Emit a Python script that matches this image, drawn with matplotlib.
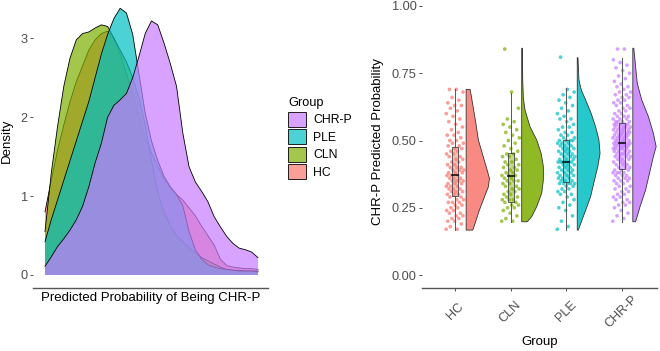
import numpy as np
import matplotlib.pyplot as plt
from matplotlib.colors import to_rgba
from matplotlib.patches import Patch, Rectangle

plt.rcParams['font.family'] = ['Liberation Sans', 'DejaVu Sans']

groups = ["HC", "CLN", "PLE", "CHR-P"]
colors = {"HC": "#F8766D", "CLN": "#7CAE00", "PLE": "#00BFC4", "CHR-P": "#C77CFF"}

# left panel: density curves
dens_x = [0.17, 0.19, 0.21, 0.23, 0.25, 0.27, 0.29, 0.31, 0.33, 0.35, 0.37, 0.39,
          0.41, 0.43, 0.45, 0.47, 0.49, 0.51, 0.53, 0.55, 0.57, 0.59, 0.61, 0.63,
          0.65, 0.67, 0.69, 0.71, 0.73, 0.75, 0.77, 0.79, 0.81, 0.83, 0.85]
dens_hc = [0.80, 1.20, 1.58, 1.90, 2.20, 2.45, 2.65, 2.85, 2.98, 3.06, 3.09, 3.00,
           2.80, 2.55, 2.30, 2.00, 1.75, 1.55, 1.38, 1.22, 1.10, 1.02, 0.95, 0.85,
           0.75, 0.62, 0.50, 0.38, 0.20, 0.12, 0.10, 0.09, 0.08, 0.08, 0.07]
dens_cln = [0.55, 1.29, 1.88, 2.39, 2.75, 2.98, 3.06, 3.08, 3.13, 3.17, 3.15, 3.00,
            2.85, 2.70, 2.50, 2.25, 1.90, 1.45, 1.05, 0.80, 0.62, 0.50, 0.42, 0.34,
            0.28, 0.22, 0.18, 0.14, 0.10, 0.07, 0.06, 0.06, 0.05, 0.05, 0.05]
dens_ple = [0.42, 0.70, 0.95, 1.20, 1.45, 1.70, 1.95, 2.20, 2.50, 2.80, 3.05, 3.25,
            3.38, 3.32, 3.05, 2.55, 2.05, 1.70, 1.45, 1.25, 1.12, 1.02, 0.88, 0.55,
            0.32, 0.20, 0.13, 0.10, 0.08, 0.07, 0.06, 0.05, 0.05, 0.05, 0.04]
dens_chrp = [0.11, 0.23, 0.36, 0.46, 0.57, 0.70, 0.87, 1.12, 1.42, 1.67, 2.00, 2.15,
             2.22, 2.30, 2.50, 2.77, 3.06, 3.22, 3.17, 2.94, 2.68, 2.39, 1.80, 1.37,
             1.18, 1.06, 0.93, 0.74, 0.61, 0.49, 0.40, 0.34, 0.32, 0.29, 0.22]
densities = {"HC": dens_hc, "CLN": dens_cln, "PLE": dens_ple, "CHR-P": dens_chrp}

# right panel: individual predicted probabilities
vals_hc = [0.17, 0.17, 0.18, 0.19, 0.20, 0.20, 0.21, 0.21, 0.22, 0.22, 0.23, 0.23,
           0.24, 0.24, 0.25, 0.25, 0.26, 0.26, 0.27, 0.27, 0.27, 0.28, 0.28, 0.29,
           0.29, 0.30, 0.30, 0.30, 0.31, 0.31, 0.31, 0.32, 0.32, 0.32, 0.33, 0.33,
           0.33, 0.34, 0.34, 0.34, 0.35, 0.35, 0.35, 0.35, 0.36, 0.36, 0.36, 0.37,
           0.37, 0.37, 0.38, 0.38, 0.38, 0.39, 0.39, 0.39, 0.40, 0.40, 0.40, 0.41,
           0.41, 0.42, 0.42, 0.43, 0.43, 0.44, 0.44, 0.45, 0.45, 0.46, 0.46, 0.47,
           0.47, 0.48, 0.48, 0.49, 0.49, 0.50, 0.50, 0.51, 0.52, 0.52, 0.53, 0.54,
           0.55, 0.56, 0.57, 0.58, 0.59, 0.60, 0.61, 0.62, 0.63, 0.63, 0.64, 0.65,
           0.66, 0.68, 0.69, 0.69]
vals_cln = [0.20, 0.20, 0.21, 0.22, 0.23, 0.24, 0.25, 0.25, 0.26, 0.26, 0.27, 0.27,
            0.28, 0.28, 0.28, 0.29, 0.29, 0.30, 0.30, 0.31, 0.31, 0.32, 0.32, 0.33,
            0.33, 0.34, 0.34, 0.35, 0.35, 0.35, 0.36, 0.36, 0.37, 0.37, 0.37, 0.38,
            0.38, 0.39, 0.39, 0.40, 0.40, 0.41, 0.41, 0.42, 0.42, 0.43, 0.44, 0.44,
            0.45, 0.45, 0.46, 0.47, 0.48, 0.49, 0.50, 0.51, 0.52, 0.53, 0.54, 0.55,
            0.56, 0.57, 0.58, 0.62, 0.68, 0.84]
vals_ple = [0.17, 0.18, 0.20, 0.22, 0.24, 0.25, 0.26, 0.27, 0.28, 0.29, 0.30, 0.30,
            0.31, 0.31, 0.32, 0.32, 0.33, 0.33, 0.34, 0.34, 0.34, 0.34, 0.34, 0.35,
            0.35, 0.35, 0.36, 0.36, 0.36, 0.37, 0.37, 0.37, 0.38, 0.38, 0.38, 0.39,
            0.39, 0.39, 0.40, 0.40, 0.40, 0.41, 0.41, 0.41, 0.42, 0.42, 0.42, 0.42,
            0.42, 0.42, 0.43, 0.43, 0.43, 0.44, 0.44, 0.44, 0.45, 0.45, 0.45, 0.46,
            0.46, 0.46, 0.47, 0.47, 0.47, 0.48, 0.48, 0.48, 0.49, 0.49, 0.49, 0.50,
            0.50, 0.50, 0.50, 0.51, 0.51, 0.52, 0.52, 0.53, 0.53, 0.54, 0.55, 0.55,
            0.56, 0.57, 0.58, 0.58, 0.59, 0.60, 0.61, 0.62, 0.63, 0.64, 0.65, 0.66,
            0.67, 0.68, 0.69, 0.81]
vals_chrp = [0.20, 0.21, 0.22, 0.23, 0.24, 0.25, 0.26, 0.26, 0.27, 0.27, 0.28, 0.28,
             0.29, 0.29, 0.30, 0.30, 0.31, 0.31, 0.32, 0.32, 0.33, 0.33, 0.34, 0.34,
             0.35, 0.35, 0.35, 0.36, 0.36, 0.36, 0.37, 0.37, 0.37, 0.38, 0.38, 0.38,
             0.38, 0.39, 0.39, 0.39, 0.40, 0.40, 0.40, 0.41, 0.41, 0.41, 0.42, 0.42,
             0.42, 0.43, 0.43, 0.43, 0.44, 0.44, 0.44, 0.44, 0.45, 0.45, 0.45, 0.45,
             0.46, 0.46, 0.46, 0.46, 0.47, 0.47, 0.47, 0.47, 0.47, 0.48, 0.48, 0.48,
             0.48, 0.48, 0.48, 0.49, 0.49, 0.49, 0.49, 0.49, 0.49, 0.49, 0.50, 0.50,
             0.50, 0.50, 0.50, 0.51, 0.51, 0.51, 0.51, 0.51, 0.52, 0.52, 0.52, 0.52,
             0.52, 0.53, 0.53, 0.53, 0.53, 0.53, 0.54, 0.54, 0.54, 0.54, 0.54, 0.55,
             0.55, 0.55, 0.55, 0.55, 0.56, 0.56, 0.56, 0.56, 0.56, 0.57, 0.57, 0.57,
             0.57, 0.58, 0.58, 0.58, 0.59, 0.59, 0.59, 0.60, 0.60, 0.61, 0.61, 0.62,
             0.62, 0.63, 0.63, 0.64, 0.64, 0.65, 0.65, 0.66, 0.66, 0.67, 0.67, 0.68,
             0.68, 0.69, 0.70, 0.70, 0.71, 0.72, 0.73, 0.74, 0.75, 0.76, 0.77, 0.78,
             0.79, 0.80, 0.84, 0.84]
values = {"HC": vals_hc, "CLN": vals_cln, "PLE": vals_ple, "CHR-P": vals_chrp}

# box plot summaries (lower whisker, q1, median, q3, upper whisker)
box_hc = [0.168, 0.294, 0.372, 0.477, 0.690]
box_cln = [0.198, 0.273, 0.368, 0.452, 0.676]
box_ple = [0.167, 0.345, 0.420, 0.502, 0.694]
box_chrp = [0.198, 0.393, 0.489, 0.566, 0.806]
boxes = {"HC": box_hc, "CLN": box_cln, "PLE": box_ple, "CHR-P": box_chrp}

# half violins: y levels and half widths (category units)
vy_hc = [0.690, 0.626, 0.564, 0.502, 0.452, 0.403, 0.359, 0.328, 0.291, 0.242, 0.204, 0.167]
vw_hc = [0.072, 0.125, 0.175, 0.22, 0.29, 0.36, 0.42, 0.40, 0.33, 0.24, 0.18, 0.12]
vy_cln = [0.843, 0.725, 0.657, 0.613, 0.551, 0.502, 0.452, 0.403, 0.353, 0.304, 0.254, 0.217, 0.198]
vw_cln = [0.013, 0.018, 0.03, 0.06, 0.15, 0.27, 0.35, 0.39, 0.39, 0.36, 0.27, 0.18, 0.10]
vy_ple = [0.808, 0.725, 0.688, 0.651, 0.601, 0.551, 0.502, 0.452, 0.403, 0.353, 0.291, 0.229, 0.167]
vw_ple = [0.013, 0.03, 0.072, 0.15, 0.25, 0.33, 0.39, 0.41, 0.37, 0.31, 0.24, 0.13, 0.018]
vy_chrp = [0.843, 0.775, 0.713, 0.651, 0.589, 0.527, 0.477, 0.440, 0.378, 0.316, 0.254, 0.198]
vw_chrp = [0.018, 0.05, 0.08, 0.16, 0.28, 0.37, 0.42, 0.37, 0.30, 0.23, 0.13, 0.05]
violins = {"HC": (vy_hc, vw_hc), "CLN": (vy_cln, vw_cln),
           "PLE": (vy_ple, vw_ple), "CHR-P": (vy_chrp, vw_chrp)}

TICK_COL = "#4D4D4D"
LINE_COL = "#555555"

fig = plt.figure(figsize=(6.6, 3.51), dpi=100)
ax1 = fig.add_axes([33 / 660, 63 / 351, 235 / 660, 288 / 351])
ax2 = fig.add_axes([421.7 / 660, 63 / 351, 235 / 660, 288 / 351])

# ---- left: densities (each layer covers the outline of the one before) ----
for k, g in enumerate(groups):
    ax1.fill_between(dens_x, densities[g], 0, facecolor=to_rgba(colors[g], 0.7),
                     edgecolor="none", zorder=2 + 2 * k)
    ax1.plot(dens_x, densities[g], color="black", lw=0.6, zorder=3 + 2 * k)

ax1.set_xlim(0.1317, 0.882)
ax1.set_ylim(-0.165, 3.485)
ax1.set_xticks([])
ax1.set_yticks([0, 1, 2, 3])
ax1.set_xlabel("Predicted Probability of Being CHR-P", fontsize=9.5, labelpad=3)
ax1.set_ylabel("Density", fontsize=9.5)
ax1.yaxis.set_label_coords(-0.084, 0.51)

# ---- right: raincloud ----
for i, g in enumerate(groups):
    pos = i + 1
    col = colors[g]
    v = values[g]
    jit = [((k * 0.6180339887) % 1 - 0.5) * 0.32 for k in range(len(v))]
    ax2.scatter(np.array(jit) + pos, v, s=7, color=col, alpha=0.7,
                edgecolors="none", zorder=2)
    lo, q1, med, q3, hi = boxes[g]
    ax2.plot([pos, pos], [lo, q1], color=LINE_COL, lw=0.7, zorder=3)
    ax2.plot([pos, pos], [q3, hi], color=LINE_COL, lw=0.7, zorder=3)
    ax2.add_patch(Rectangle((pos - 0.055, q1), 0.11, q3 - q1,
                            facecolor=to_rgba(col, 0.45), edgecolor="#444444",
                            lw=0.6, zorder=4))
    ax2.plot([pos - 0.055, pos + 0.055], [med, med], color="black", lw=1.1, zorder=5)
    vy, vw = violins[g]
    xs = [pos + 0.2] + [pos + 0.2 + w for w in vw] + [pos + 0.2]
    ys = [vy[0]] + list(vy) + [vy[-1]]
    ax2.fill(xs, ys, facecolor=to_rgba(col, 0.85), edgecolor="#333333",
             lw=0.6, zorder=3)

ax2.set_xlim(0.4, 4.63)
ax2.set_ylim(-0.0483, 1.0223)
ax2.set_xticks([1, 2, 3, 4])
ax2.set_xticklabels(groups, rotation=45, ha="center", va="center",
                    rotation_mode="anchor")
ax2.set_yticks([0, 0.25, 0.5, 0.75, 1.0])
ax2.set_yticklabels(["0.00", "0.25", "0.50", "0.75", "1.00"])
ax2.set_xlabel("Group", fontsize=9.5, labelpad=4)
ax2.set_ylabel("CHR-P Predicted Probability", fontsize=9.5)
ax2.yaxis.set_label_coords(-0.160, 0.51)

for ax in (ax1, ax2):
    for s in ("top", "right", "left"):
        ax.spines[s].set_visible(False)
    ax.spines["bottom"].set_color(LINE_COL)
    ax.spines["bottom"].set_linewidth(1.0)
    ax.tick_params(axis="both", colors="#333333", labelcolor=TICK_COL,
                   labelsize=9.2, length=2.2, width=0.6, pad=1.5)
ax2.tick_params(axis="x", pad=15)

handles = [Patch(facecolor=to_rgba(colors[g], 0.7), edgecolor="black", lw=0.6,
                 label=g) for g in groups[::-1]]
fig.legend(handles=handles, title="Group", loc="upper left",
           bbox_to_anchor=(288 / 660, 1 - 97 / 351), frameon=False,
           fontsize=8.8, title_fontsize=9.2, alignment="left",
           handlelength=1.45, handleheight=1.5, labelspacing=0.22,
           handletextpad=0.6, borderpad=0, borderaxespad=0)

fig.savefig("out.png", dpi=100)
